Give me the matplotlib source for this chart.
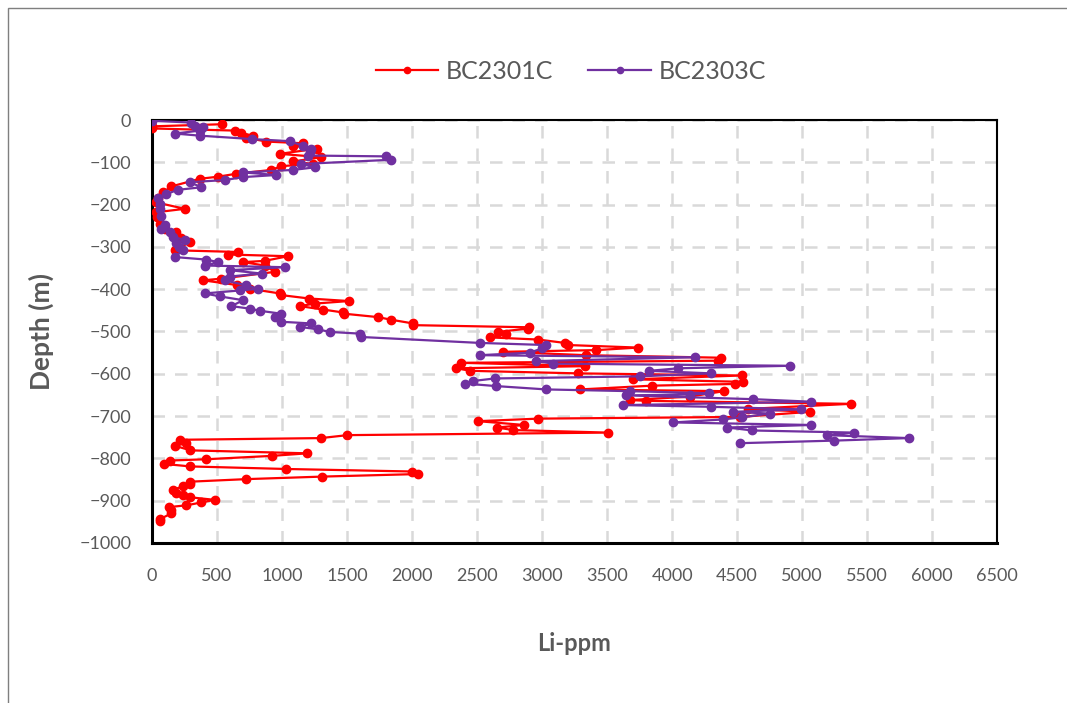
import numpy as np
import matplotlib
matplotlib.use('Agg')
import matplotlib.pyplot as plt
from matplotlib.patches import Rectangle

# ---------------- data ----------------
# BC2301C: Li (ppm) vs depth (m)
li_2301 = [540, 0, 0, 636, 688, 777, 726, 880, 1162, 1085, 1265, 982, 1303, 1085, 1238,
           995, 918, 649, 508, 367, 149, 85, 46, 34, 252, 34, 40, 60, 100, 188,
           220, 290, 175, 662, 585, 1046, 867, 700, 867, 944, 534, 392, 650, 752, 982,
           995, 1208, 1515, 1252, 1136, 1315, 1469, 1480, 1738, 1836, 2008, 2010, 2900, 2892, 2662,
           2726, 2603, 2969, 3175, 3200, 3738, 3418, 2700, 3341, 4380, 4354, 2380, 3328, 2341, 2449,
           3277, 4534, 3700, 4546, 4484, 3849, 3290, 4400, 4136, 3675, 3803, 5375, 4585, 5060, 4520,
           2969, 2508, 2862, 2654, 2777, 3508, 1503, 1298, 213, 264, 175, 295, 1195, 923, 418,
           141, 90, 295, 1028, 2003, 2046, 1311, 726, 295, 290, 238, 162, 182, 238, 295,
           482, 380, 264, 131, 149, 149, 65, 65]
depth_2301 = [-10, -15, -20, -25, -31, -37, -42, -51, -55, -61, -68, -80, -88, -98, -104,
              -109, -118, -127, -134, -139, -157, -171, -184, -195, -210, -218, -230, -245, -258, -265,
              -278, -289, -308, -312, -318, -322, -333, -336, -344, -359, -375, -379, -390, -399, -410,
              -414, -422, -428, -434, -440, -448, -455, -458, -466, -472, -481, -485, -490, -493, -501,
              -506, -514, -519, -527, -532, -538, -544, -548, -556, -562, -569, -574, -582, -587, -593,
              -599, -604, -613, -619, -624, -628, -637, -641, -654, -662, -664, -671, -683, -690, -702,
              -706, -712, -721, -727, -733, -739, -745, -752, -756, -764, -770, -781, -788, -794, -802,
              -805, -813, -819, -825, -831, -837, -843, -849, -855, -860, -866, -874, -881, -886, -892,
              -898, -904, -911, -915, -923, -930, -943, -948]

# BC2303C
li_2303 = [3, 303, 328, 392, 370, 175, 367, 765, 1059, 1162, 1226, 1213, 1200, 1803, 1841,
           1149, 1251, 1085, 700, 957, 700, 559, 290, 380, 200, 111, 46, 59, 60, 72,
           98, 72, 136, 162, 252, 188, 210, 238, 175, 418, 508, 405, 1021, 598, 842,
           600, 559, 726, 815, 675, 405, 521, 700, 611, 752, 829, 995, 944, 995, 1226,
           1136, 1277, 1367, 1597, 1610, 2521, 3034, 3000, 2905, 2521, 4175, 2957, 3085, 4905, 4047,
           3823, 4303, 3752, 2636, 2469, 2405, 2644, 3034, 3675, 4285, 4136, 3649, 4626, 5072, 3626,
           4298, 4990, 4465, 4752, 4534, 4388, 4008, 5072, 4426, 4618, 5400, 5188, 5820, 5243, 4526]
depth_2303 = [-2, -6, -13, -17, -25, -32, -37, -45, -50, -61, -68, -76, -84, -86, -94,
              -104, -112, -118, -124, -130, -135, -142, -147, -159, -165, -175, -184, -198, -210, -226,
              -249, -257, -265, -277, -283, -291, -300, -308, -324, -330, -336, -344, -348, -355, -363,
              -370, -379, -391, -399, -403, -410, -417, -426, -440, -446, -451, -458, -466, -477, -481,
              -489, -495, -501, -505, -513, -527, -532, -540, -550, -556, -561, -570, -576, -581, -587,
              -593, -599, -606, -611, -617, -623, -629, -637, -641, -646, -649, -651, -660, -666, -674,
              -678, -684, -690, -694, -703, -708, -715, -721, -727, -734, -739, -745, -752, -758, -764]

x_ticks = np.arange(0, 6501, 500)
y_ticks = np.arange(0, -1001, -100)

# ---------------- plot ----------------
plt.rcParams['font.family'] = ['Lato', 'DejaVu Sans']
txt_col = '#595959'

fig = plt.figure(figsize=(10.67, 7.03), dpi=100)
ax = fig.add_axes([0.1425, 0.2276, 0.792, 0.6017])

ax.plot(li_2301, depth_2301, color='#FF0000', lw=1.6, marker='o', ms=6,
        label='BC2301C', zorder=3)
ax.plot(li_2303, depth_2303, color='#7030A0', lw=1.6, marker='o', ms=6,
        label='BC2303C', zorder=3)

ax.set_xlim(0, 6500)
ax.set_ylim(-1000, 0)
ax.set_xticks(x_ticks)
ax.set_yticks(y_ticks)
ax.tick_params(axis='both', length=0, labelsize=13, labelcolor=txt_col)
ax.tick_params(axis='x', pad=18)
ax.tick_params(axis='y', pad=15)
ax.grid(True, color='#D9D9D9', ls=(0, (5, 4)), lw=1.8, zorder=0)
ax.set_axisbelow(True)
for s in ax.spines.values():
    s.set_color('black')
    s.set_linewidth(1.5)
ax.spines['left'].set_linewidth(2.2)
ax.spines['bottom'].set_linewidth(2.2)

fig.text(0.039, 0.528, 'Depth (m)', rotation=90, ha='center', va='center',
         fontsize=19, fontweight='bold', color=txt_col)
fig.text(0.538, 0.085, 'Li-ppm', ha='center', va='center',
         fontsize=17, fontweight='bold', color=txt_col)

leg = fig.legend(loc='center', bbox_to_anchor=(0.535, 0.898), ncol=2, frameon=False,
                 fontsize=18, handlelength=2.5, columnspacing=1.4, handletextpad=0.3,
                 markerscale=0.75)
for t in leg.get_texts():
    t.set_color(txt_col)

# chart area border
fig.patches.append(Rectangle((0.0075, -0.01), 1.2, 0.999, transform=fig.transFigure,
                             fill=False, edgecolor='#7F7F7F', lw=1.0))

fig.savefig('out.png', dpi=100, facecolor='white')
